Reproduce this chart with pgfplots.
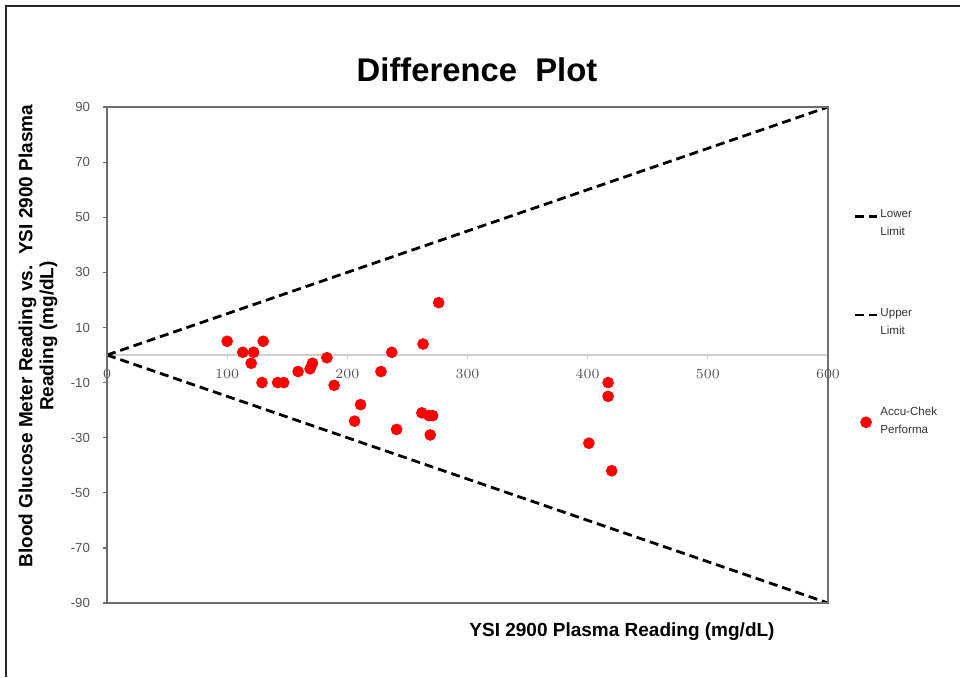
\documentclass[border=0pt]{standalone}
\usepackage{pgfplots}
\pgfplotsset{compat=1.18}
\usepackage{fontspec}
\setmainfont{Liberation Sans}
\definecolor{ticktxt}{HTML}{555555}
\definecolor{boxline}{HTML}{6E6E6E}
\definecolor{zeroline}{HTML}{D0D0D0}
\begin{document}
\begin{tikzpicture}
\useasboundingbox (0,0) rectangle (480pt,-338.5pt);
% outer frame (cropped on right and bottom)
\draw[black!85, line width=1pt] (3.2pt,-338.5pt) -- (3.2pt,-2.75pt) -- (480pt,-2.75pt);

\begin{axis}[
    at={(53.5pt,-301.5pt)}, anchor=south west,
    scale only axis, width=360.5pt, height=248pt,
    xmin=0, xmax=600, ymin=-90, ymax=90,
    enlargelimits=false, clip=false,
    axis x line=middle, axis y line=left,
    axis line style={-},
    x axis line style={zeroline, line width=0.8pt},
    y axis line style={boxline, line width=1pt},
    xtick={0,100,...,600}, ytick={-90,-70,...,90},
    hide obscured x ticks=false,
    tick align=outside, major tick length=2pt,
    xtick style={zeroline, line width=0.6pt},
    ytick style={boxline, line width=0.6pt},
    xticklabel style={font=\fontsize{6.9}{8}\selectfont, text=ticktxt, yshift=-1.5pt},
    yticklabel={\pgfmathprintnumber[assume math mode=true]{\tick}},
    yticklabel style={font=\fontsize{6.6}{8}\selectfont, text=ticktxt, xshift=-3pt},
    legend cell align=left,
    legend style={at={(axis description cs:1.035,0.798)}, anchor=north west,
        draw=none, fill=none, inner sep=0pt, row sep=33pt,
        font=\fontsize{5.8}{9}\selectfont, text=black!80,
        nodes={inner sep=1pt, align=left}},
    legend image code/.code={
        \draw[mark repeat=2, mark phase=2, #1] plot coordinates {(0pt,0pt) (5.5pt,0pt) (11pt,0pt)};},
]
\addplot[black, line width=1.4pt, dash pattern=on 4.5pt off 2.5pt,
    legend image post style={yshift=4pt}] coordinates {(0,0) (600,-90)};
\addlegendentry{Lower\\Limit}
\addplot[black, line width=1.4pt, dash pattern=on 4.5pt off 2.5pt,
    legend image post style={yshift=4pt}] coordinates {(0,0) (600,90)};
\addlegendentry{Upper\\Limit}
\addplot[only marks, mark=*, mark size=2.7pt, color=red, mark options={draw=red, fill=red}] coordinates {
    (100,5) (113,1) (122,1) (120,-3) (130,5) (129,-10) (142,-10) (147,-10)
    (159,-6) (169,-5) (171,-3) (183,-1) (189,-11) (211,-18) (206,-24)
    (228,-6) (237,1) (241,-27) (263,4) (262,-21) (268,-22) (271,-22)
    (269,-29) (276,19) (417,-10) (417,-15) (401,-32) (420,-42)
};
\addlegendentry{Accu-Chek\\Performa}
\draw[boxline, line width=1pt] (rel axis cs:0,0) rectangle (rel axis cs:1,1);
\end{axis}

\node[font=\fontsize{16.4}{18}\selectfont\bfseries] at (238.5pt,-35pt) {Difference\ \ Plot};
\node[font=\fontsize{9.5}{10.5}\selectfont\bfseries, rotate=90, align=center] at (19pt,-168pt)
    {Blood Glucose Meter Reading vs.\ \ YSI 2900 Plasma\\Reading (mg/dL)};
\node[font=\fontsize{9.5}{10.5}\selectfont\bfseries] at (311pt,-316pt) {YSI 2900 Plasma Reading (mg/dL)};
\end{tikzpicture}
\end{document}
